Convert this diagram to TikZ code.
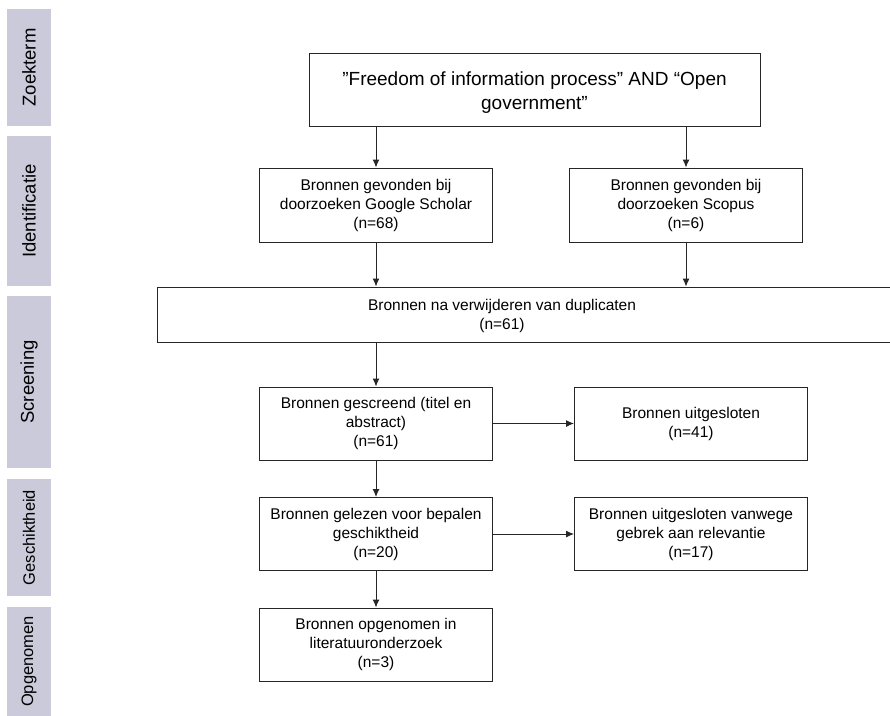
\documentclass[tikz,border=0pt]{standalone}
\usepackage{fontspec}
\setmainfont{Liberation Sans}
\usetikzlibrary{arrows.meta}
\definecolor{phasebar}{HTML}{CBCADB}
\definecolor{edge}{HTML}{262626}
\tikzset{
  boxfont/.style={font=\fontsize{15.5}{19}\selectfont},
  stepbox/.style={draw=edge, line width=1pt, fill=white, align=center, inner sep=0pt,
    minimum width=233pt, minimum height=73pt, boxfont},
  phase/.style={fill=phasebar, rotate=90, inner sep=0pt, minimum height=44pt,
    font=\fontsize{18.5}{22}\selectfont},
  arr/.style={draw=edge, line width=1pt, -{Latex[length=8pt,width=7pt]}}
}
\begin{document}
\begin{tikzpicture}[x=1pt,y=-1pt]
\useasboundingbox (0,0) rectangle (890,715);
\clip (0,0) rectangle (890,715);
\fill[white] (0,0) rectangle (890,715);

% phase labels on the left
\node[phase, minimum width=117pt] (pz) at (29,67.5) {Zoekterm};
\node[phase, minimum width=150pt] (pi) at (29,211) {Identificatie};
\node[phase, minimum width=172pt] (ps) at (29,382) {Screening};
\node[phase, minimum width=117pt, font=\fontsize{16.5}{20}\selectfont] (pg) at (29,537.5) {Geschiktheid};
\node[phase, minimum width=109pt, font=\fontsize{16.5}{20}\selectfont] (po) at (29,661.5) {Opgenomen};

% flow boxes
\node[stepbox, minimum width=451pt] (top) at (534.5,89.5) {};
\node[font=\fontsize{19}{24}\selectfont, align=center, inner sep=0pt] (toptext) at (534.5,93)
  {”Freedom of information process” AND “Open\\government”};
\node[stepbox, minimum height=74pt] (google) at (376,205)
  {Bronnen gevonden bij\\doorzoeken Google Scholar\\(n=68)};
\node[stepbox, minimum height=74pt] (scopus) at (686,205)
  {Bronnen gevonden bij\\doorzoeken Scopus\\(n=6)};
\node[stepbox, minimum width=740pt, minimum height=55pt] (dup) at (527,314.5) {};
\node[boxfont, align=center, inner sep=0pt] (duptext) at (502,315.5)
  {Bronnen na verwijderen van duplicaten\\(n=61)};
\node[stepbox] (scr) at (376,423.5)
  {Bronnen gescreend (titel en\\abstract)\\(n=61)};
\node[stepbox] (ex1) at (691,423.5)
  {Bronnen uitgesloten\\(n=41)};
\node[stepbox] (read) at (376,534)
  {Bronnen gelezen voor bepalen\\geschiktheid\\(n=20)};
\node[stepbox] (ex2) at (691,534)
  {Bronnen uitgesloten vanwege\\gebrek aan relevantie\\(n=17)};
\node[stepbox] (inc) at (376,644.5)
  {Bronnen opgenomen in\\literatuuronderzoek\\(n=3)};

% connectors
\draw[arr] (google |- top.south) -- (google.north);
\draw[arr] (scopus |- top.south) -- (scopus.north);
\draw[arr] (google.south) -- (google |- dup.north);
\draw[arr] (scopus.south) -- (scopus |- dup.north);
\draw[arr] (scr |- dup.south) -- (scr.north);
\draw[arr] (scr.east) -- (ex1.west);
\draw[arr] (scr.south) -- (read.north);
\draw[arr] (read.east) -- (ex2.west);
\draw[arr] (read.south) -- (inc.north);
\end{tikzpicture}
\end{document}
